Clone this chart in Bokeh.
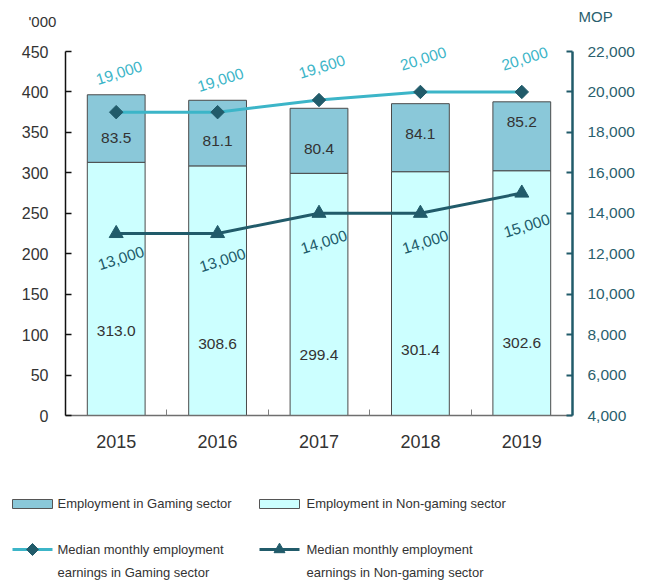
from bokeh.plotting import figure
from bokeh.models import (Range1d, LinearAxis, FixedTicker, NumeralTickFormatter,
                          ColumnDataSource)
from bokeh.layouts import column
from bokeh.core.properties import value
from bokeh.embed import file_html
from bokeh.resources import INLINE

# ---------------- data ----------------
years = [2015, 2016, 2017, 2018, 2019]
year_labels = ["2015", "2016", "2017", "2018", "2019"]
emp_gaming = [83.5, 81.1, 80.4, 84.1, 85.2]
emp_nongaming = [313.0, 308.6, 299.4, 301.4, 302.6]
earn_gaming = [19000, 19000, 19600, 20000, 20000]
earn_nongaming = [13000, 13000, 14000, 14000, 15000]
left_ticks = [0, 50, 100, 150, 200, 250, 300, 350, 400, 450]
right_ticks = [4000, 6000, 8000, 10000, 12000, 14000, 16000, 18000, 20000, 22000]

# ---------------- style ----------------
FONT_S = "Liberation Sans"
FONT = value(FONT_S)
C_GAM_BAR = "#8ac8d9"
C_NON_BAR = "#ccffff"
C_BAR_LINE = "#4a4a4a"
C_GAM_LINE = "#3cb5c8"
C_DARK = "#215b6a"
C_AXIS_R = "#2a5f6e"
C_TEXT = "#333333"

# label pixel offsets (style only)
gam_lbl_dy = [9, 8, 8, -4, -14]
non_lbl_dy = [42, 53, 61, 56, 50]
earn_gam_dy = [-39, -32, -33, -33, -33]
earn_non_dy = [25, 27, 29, 29, 33]

W = 651
TOP_H, MAIN_H, LEG_H = 40, 423, 118

src = ColumnDataSource(dict(
    x=years,
    gam=emp_gaming,
    non=emp_nongaming,
    total=[a + b for a, b in zip(emp_gaming, emp_nongaming)],
    gam_mid=[b + a / 2 for a, b in zip(emp_gaming, emp_nongaming)],
    non_mid=[b / 2 for b in emp_nongaming],
    gam_txt=[f"{v:.1f}" for v in emp_gaming],
    non_txt=[f"{v:.1f}" for v in emp_nongaming],
    eg=earn_gaming,
    en=earn_nongaming,
    eg_txt=[f"{v:,}" for v in earn_gaming],
    en_txt=[f"{v:,}" for v in earn_nongaming],
    gdy=gam_lbl_dy,
    ndy=non_lbl_dy,
    egdy=earn_gam_dy,
    endy=earn_non_dy,
))

# ---------------- unit labels strip ----------------
top = figure(width=W, height=TOP_H, output_backend="svg", toolbar_location=None,
             x_range=Range1d(0, W), y_range=Range1d(TOP_H, 0), min_border=0,
             frame_align=False)
top.axis.visible = False
top.grid.visible = False
top.outline_line_color = None
top.text(x=[28], y=[21], text=["'000"], text_baseline="middle", text_align="left",
         text_color=C_TEXT, text_font=FONT, text_font_size="15px")
top.text(x=[578], y=[16], text=["MOP"], text_baseline="middle", text_align="left",
         text_color=C_AXIS_R, text_font=FONT, text_font_size="15px")

# ---------------- main chart ----------------
frame_h = MAIN_H - 48
y_top = 450 * frame_h / 364.0
r_top = 4000 + 18000 * frame_h / 364.0

p = figure(width=W, height=MAIN_H, output_backend="svg", toolbar_location=None,
           x_range=Range1d(2014.5, 2019.5), y_range=Range1d(0, y_top),
           min_border_left=65, min_border_right=79, min_border_top=0,
           min_border_bottom=48, frame_align=False)
p.outline_line_color = None
p.xgrid.visible = False
p.ygrid.visible = False
p.extra_y_ranges = {"mop": Range1d(4000, r_top)}

# bars
p.vbar(x="x", bottom=0, top="non", width=0.57, source=src,
       fill_color=C_NON_BAR, line_color=C_BAR_LINE, line_width=1)
p.vbar(x="x", bottom="non", top="total", width=0.57, source=src,
       fill_color=C_GAM_BAR, line_color=C_BAR_LINE, line_width=1)

# bar labels
p.text(x="x", y="gam_mid", text="gam_txt", y_offset="gdy", source=src,
       text_align="center", text_baseline="middle", text_color=C_TEXT,
       text_font=FONT, text_font_size="15.5px")
p.text(x="x", y="non_mid", text="non_txt", y_offset="ndy", source=src,
       text_align="center", text_baseline="middle", text_color=C_TEXT,
       text_font=FONT, text_font_size="15.5px")

# lines
p.line(x="x", y="eg", y_range_name="mop", source=src, line_color=C_GAM_LINE, line_width=3)
p.scatter(x="x", y="eg", y_range_name="mop", source=src, marker="square", angle=0.785398,
          size=9.5, fill_color=C_DARK, line_color=C_DARK)
p.line(x="x", y="en", y_range_name="mop", source=src, line_color=C_DARK, line_width=3)
p.scatter(x="x", y="en", y_range_name="mop", source=src, marker="triangle",
          size=14, fill_color=C_DARK, line_color=C_DARK)

# earnings labels
p.text(x="x", y="eg", text="eg_txt", y_range_name="mop", source=src,
       x_offset=3, y_offset="egdy", angle=0.3,
       text_align="center", text_baseline="middle", text_color=C_GAM_LINE,
       text_font=FONT, text_font_size="15.5px")
p.text(x="x", y="en", text="en_txt", y_range_name="mop", source=src,
       x_offset=5, y_offset="endy", angle=0.3,
       text_align="center", text_baseline="middle", text_color=C_DARK,
       text_font=FONT, text_font_size="15.5px")

# axes
xa = p.xaxis[0]
xa.ticker = FixedTicker(ticks=years, minor_ticks=[2015.5, 2016.5, 2017.5, 2018.5])
xa.major_label_overrides = {y: l for y, l in zip(years, year_labels)}
xa.major_tick_line_color = None
xa.minor_tick_in = 6
xa.minor_tick_out = 0
xa.minor_tick_line_color = "#7f7f7f"
xa.axis_line_color = "#6f6f6f"
xa.axis_line_width = 1.5
xa.major_label_text_font = FONT_S
xa.major_label_text_font_size = "18px"
xa.major_label_text_color = C_TEXT
xa.major_label_standoff = 13

ya = p.yaxis[0]
ya.bounds = (0, 450)
ya.ticker = FixedTicker(ticks=left_ticks)
ya.axis_line_color = "#111111"
ya.axis_line_width = 1.5
ya.major_tick_in = 6
ya.major_tick_out = 0
ya.major_tick_line_color = "#111111"
ya.major_tick_line_width = 1.5
ya.minor_tick_line_color = None
ya.major_label_text_font = FONT_S
ya.major_label_text_font_size = "16px"
ya.major_label_text_color = C_TEXT
ya.major_label_standoff = 17

ra = LinearAxis(y_range_name="mop", bounds=(4000, 22000))
ra.ticker = FixedTicker(ticks=right_ticks)
ra.formatter = NumeralTickFormatter(format="0,0")
ra.axis_line_color = C_DARK
ra.axis_line_width = 2.5
ra.major_tick_in = 6
ra.major_tick_out = 0
ra.major_tick_line_color = C_DARK
ra.major_tick_line_width = 2
ra.minor_tick_line_color = None
ra.major_label_text_font = FONT_S
ra.major_label_text_font_size = "15.5px"
ra.major_label_text_color = C_AXIS_R
ra.major_label_standoff = 15
p.add_layout(ra, "right")

# ---------------- legend strip ----------------
lg = figure(width=W, height=LEG_H, output_backend="svg", toolbar_location=None,
            x_range=Range1d(0, W), y_range=Range1d(LEG_H, 0), min_border=0,
            frame_align=False)
lg.axis.visible = False
lg.grid.visible = False
lg.outline_line_color = None

LF = "13px"
lg.rect(x=[32, 279], y=[40.5, 40.5], width=40, height=9,
        fill_color=[C_GAM_BAR, C_NON_BAR], line_color="#555555")
lg.text(x=[57, 306], y=[40, 40],
        text=["Employment in Gaming sector", "Employment in Non-gaming sector"],
        text_baseline="middle", text_align="left", text_color=C_TEXT,
        text_font=FONT, text_font_size=LF)

lg.line(x=[12, 52], y=[86, 86], line_color=C_GAM_LINE, line_width=3)
lg.scatter(x=[32], y=[86], marker="square", angle=0.785398, size=8.5,
           fill_color=C_DARK, line_color=C_DARK)
lg.line(x=[259, 299], y=[86, 86], line_color=C_DARK, line_width=3)
lg.scatter(x=[279], y=[86], marker="triangle", size=11, fill_color=C_DARK, line_color=C_DARK)
lg.text(x=[57, 57, 306, 306], y=[86, 109, 86, 109],
        text=["Median monthly employment", "earnings in Gaming sector",
              "Median monthly employment", "earnings in Non-gaming sector"],
        text_baseline="middle", text_align="left", text_color=C_TEXT,
        text_font=FONT, text_font_size=LF)

layout = column(top, p, lg, spacing=0)
open("out.html", "w").write(file_html(layout, INLINE))
